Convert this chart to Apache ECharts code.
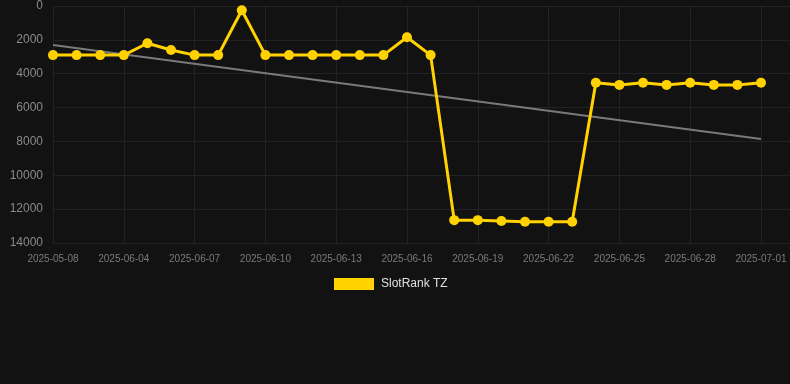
<!DOCTYPE html>
<html>
<head>
<meta charset="utf-8">
<script src="https://cdn.jsdelivr.net/npm/echarts@6/dist/echarts.min.js"></script>
<style>
  html, body { margin: 0; padding: 0; background: #121212; }
  #chart { width: 790px; height: 384px; }
</style>
</head>
<body>
<div id="chart"></div>
<script>
// 日期(类目)
var dates = ['2025-05-08', '2025-06-02', '2025-06-03', '2025-06-04', '2025-06-05', '2025-06-06',
    '2025-06-07', '2025-06-08', '2025-06-09', '2025-06-10', '2025-06-11', '2025-06-12',
    '2025-06-13', '2025-06-14', '2025-06-15', '2025-06-16', '2025-06-17', '2025-06-18',
    '2025-06-19', '2025-06-20', '2025-06-21', '2025-06-22', '2025-06-23', '2025-06-24',
    '2025-06-25', '2025-06-26', '2025-06-27', '2025-06-28', '2025-06-29', '2025-06-30',
    '2025-07-01'];

// 排名
var rank = [2900, 2900, 2900, 2900, 2200, 2600, 2900, 2900, 250, 2900, 2900, 2900,
    2900, 2900, 2900, 1850, 2900, 12650, 12650, 12700, 12750, 12750, 12750, 4530,
    4660, 4530, 4660, 4530, 4660, 4660, 4530];

// 趋势线两端
var trendIndex = [0, 30];
var trendValue = [2300, 7850];

var yTicks = [0, 2000, 4000, 6000, 8000, 10000, 12000, 14000];

var chart = echarts.init(document.getElementById('chart'));

var rankData = [];
for (var i = 0; i < rank.length; i++) {
    rankData.push([i, rank[i]]);
}
var trendData = [];
for (var j = 0; j < trendIndex.length; j++) {
    trendData.push([trendIndex[j], trendValue[j]]);
}

var option = {
    backgroundColor: '#121212',
    animation: false,
    textStyle: {
        fontFamily: 'Liberation Sans, Arial, sans-serif'
    },
    legend: {
        data: ['SlotRank TZ'],
        top: 273,
        left: 329,
        itemWidth: 40,
        itemHeight: 12,
        icon: 'rect',
        textStyle: {
            color: '#e0e0e0',
            fontSize: 12,
            padding: [0, 0, 0, 2]
        }
    },
    grid: {
        left: 53,
        right: 0,
        top: 6,
        height: 237,
        containLabel: false,
        outerBoundsMode: 'none'
    },
    xAxis: {
        type: 'value',
        min: 0,
        max: 30 * 737 / 708,
        interval: 3,
        axisLine: { show: false },
        axisTick: {
            show: true,
            length: 5,
            lineStyle: { color: '#262626' }
        },
        axisLabel: {
            color: '#7a7a7a',
            fontSize: 10,
            margin: 11,
            formatter: function (v) {
                return Number.isInteger(v) ? dates[v] : '';
            }
        },
        splitLine: {
            show: true,
            lineStyle: { color: '#222222', width: 1 }
        }
    },
    yAxis: {
        type: 'value',
        inverse: true,
        min: yTicks[0],
        max: yTicks[yTicks.length - 1],
        interval: 2000,
        axisLine: { show: false },
        axisTick: { show: false },
        axisLabel: {
            color: '#8a8a8a',
            fontSize: 12,
            margin: 10,
            formatter: function (v) {
                return String(v);
            }
        },
        splitLine: {
            show: true,
            lineStyle: { color: '#222222', width: 1 }
        }
    },
    series: [{
        name: 'trend',
        type: 'line',
        data: trendData,
        symbol: 'none',
        z: 1,
        lineStyle: { color: '#7a7a7a', width: 2 }
    }, {
        name: 'SlotRank TZ',
        type: 'line',
        data: rankData,
        symbol: 'circle',
        symbolSize: 10,
        z: 2,
        itemStyle: { color: '#ffd200' },
        lineStyle: { color: '#ffd200', width: 3 }
    }]
};

chart.setOption(option);
</script>
</body>
</html>
